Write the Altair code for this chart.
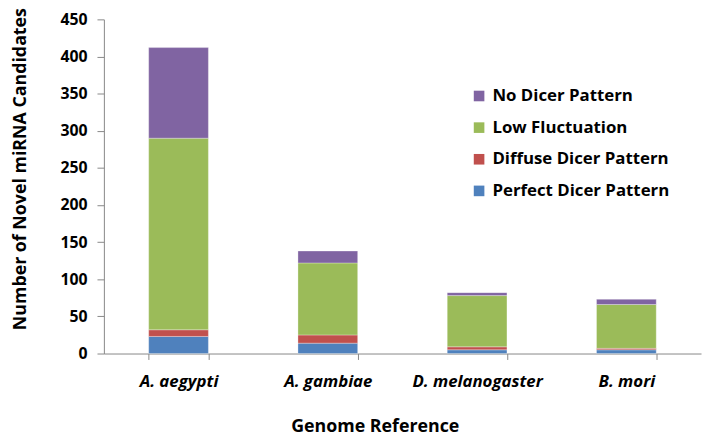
import altair as alt
import pandas as pd

genomes = ["A. aegypti", "A. gambiae", "D. melanogaster", "B. mori"]
series = ["Perfect Dicer Pattern", "Diffuse Dicer Pattern", "Low Fluctuation", "No Dicer Pattern"]
perfect = [23, 14, 5, 5]
diffuse = [9, 11, 4, 2]
low = [258, 97, 69, 59]
nodicer = [122, 16, 4, 7]
colors = ["#4F81BD", "#C0504D", "#9BBB59", "#8064A2"]
y_ticks = [0, 50, 100, 150, 200, 250, 300, 350, 400, 450]

rows = []
for i, g in enumerate(genomes):
    for k, (name, vals) in enumerate(zip(series, [perfect, diffuse, low, nodicer])):
        rows.append({"genome": g, "series": name, "value": vals[i], "order": k})
df = pd.DataFrame(rows)

FONT = "Open Sans"

chart = alt.Chart(df).mark_bar(stroke="white", strokeWidth=0.5, strokeOpacity=0.6).encode(
    x=alt.X("genome:N", sort=genomes,
            scale=alt.Scale(paddingInner=0.6, paddingOuter=0.3),
            axis=alt.Axis(title="Genome Reference", labelAngle=0, tickBand="extent",
                          labelFont=FONT, labelFontSize=17, labelFontWeight="bold",
                          labelFontStyle="italic", labelColor="black", labelPadding=14,
                          tickSize=6, tickColor="#888888", domainColor="#888888",
                          titleFont=FONT, titleFontSize=18, titleFontWeight="bold",
                          titleColor="black", titleX=274, titleY=74, titleBaseline="middle")),
    y=alt.Y("value:Q", stack="zero",
            scale=alt.Scale(domain=[0, 450], nice=False),
            axis=alt.Axis(title="Number of Novel miRNA Candidates", values=y_ticks, grid=False,
                          labelFont=FONT, labelFontSize=16, labelFontWeight="bold",
                          labelColor="black", labelPadding=10, tickSize=7,
                          tickColor="#888888", domainColor="#888888",
                          titleFont=FONT, titleFontSize=18, titleFontWeight="bold",
                          titleColor="black", titleX=-79, titleY=151, titleAnchor="middle",
                          titleAngle=270, titleBaseline="alphabetic")),
    color=alt.Color("series:N",
                    scale=alt.Scale(domain=series[::-1], range=colors[::-1]),
                    legend=alt.Legend(title=None, orient="none", legendX=371, legendY=69,
                                      symbolType="square", symbolSize=115, symbolStrokeWidth=0,
                                      labelFont=FONT, labelFontSize=17, labelFontWeight="bold",
                                      labelColor="black", rowPadding=14, labelOffset=5,
                                      labelLimit=400)),
    order=alt.Order("order:Q", sort="ascending"),
).properties(
    width=604, height=338,
    autosize=alt.AutoSizeParams(type="none"),
    padding={"left": 97, "top": 9, "right": 2, "bottom": 88},
).configure_view(stroke=None)

chart.save("out.html", embed_options={"renderer": "svg", "actions": False})
